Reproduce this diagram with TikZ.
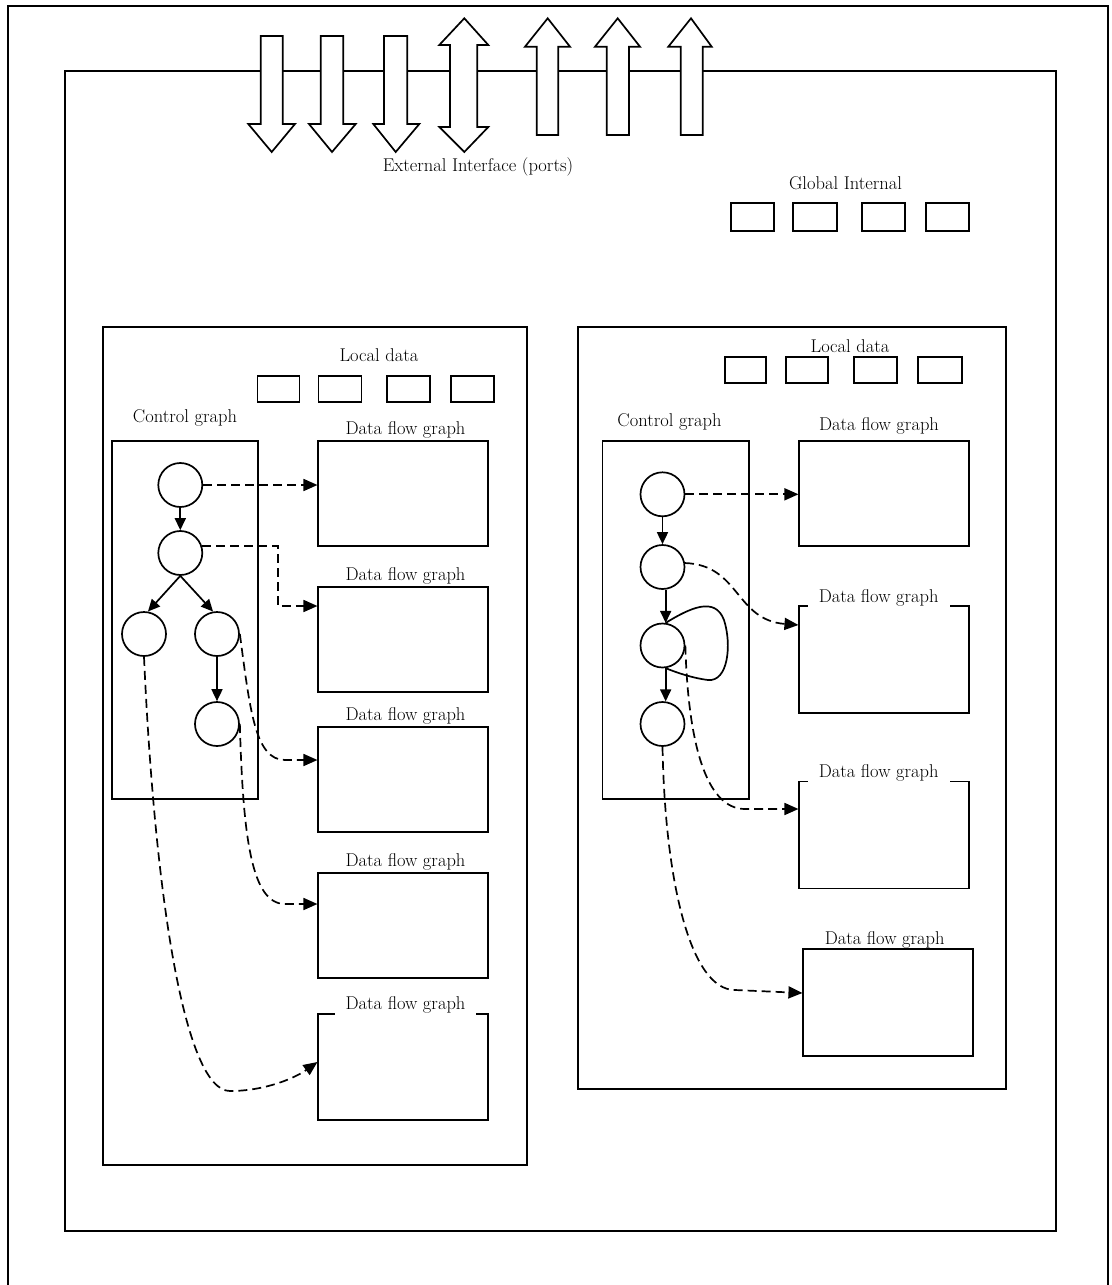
\documentclass[tikz,border=0pt]{standalone}
\usepackage{fontspec}
\usetikzlibrary{arrows.meta}
\begin{document}
\begin{tikzpicture}[x=1pt,y=-1pt, line width=1.7pt,
  lbl/.style={font=\fontsize{18.5}{22}\selectfont, anchor=base, inner sep=0pt},
  lblcut/.style={lbl, fill=white, inner xsep=11pt, inner ysep=3pt},
  box/.style={draw, rectangle, inner sep=0pt},
  cnode/.style={draw, circle, minimum size=44pt, inner sep=0pt},
  flow/.style={dash pattern=on 9pt off 5pt, -{Triangle[length=14pt,width=12pt]}},
  ctrl/.style={-{Triangle[length=12pt,width=11pt]}},
  port/.style={draw, fill=white, line join=miter}
]
\useasboundingbox (0,0) rectangle (1111,1285);
% outer page frame
\draw (8,1290) -- (8,6) -- (1108,6) -- (1108,1290);
% inner frame
\draw (65,71) rectangle (1056,1231);
% ports
\draw[port] (260.7,36)--(282.7,36)--(282.7,124)--(295,124)--(271.7,152)--(248.3,124)--(260.7,124)--cycle;
\draw[port] (320.7,36)--(343.3,36)--(343.3,124)--(355.7,124)--(332,152)--(309,124)--(320.7,124)--cycle;
\draw[port] (384,36)--(407.3,36)--(407.3,124)--(419.3,124)--(395.7,152)--(373.3,124)--(384,124)--cycle;
\draw[port] (464.3,18.3)--(488.3,45)--(477.3,45)--(477.3,127)--(488.3,127)--(464.3,152)--(439.3,127)--(450,127)--(450,45)--(439.3,45)--cycle;
\draw[port] (547.7,18.3)--(570,46.7)--(558.3,46.7)--(558.3,135)--(536.7,135)--(536.7,46.7)--(525,46.7)--cycle;
\draw[port] (617.7,18.3)--(640,46.7)--(629,46.7)--(629,135)--(606.7,135)--(606.7,46.7)--(595,46.7)--cycle;
\draw[port] (691,18.3)--(711.7,46.7)--(702.7,46.7)--(702.7,135)--(680.7,135)--(680.7,46.7)--(668.3,46.7)--cycle;
\node[lbl] (ext) at (478,171) {External Interface (ports)};
% global internal
\node[lbl] (glob) at (845.5,189.5) {Global Internal};
\node[box, minimum width=43pt, minimum height=28pt] (g1) at (752.5,216.8) {};
\node[box, minimum width=44pt, minimum height=28pt] (g2) at (814.7,216.8) {};
\node[box, minimum width=43pt, minimum height=28pt] (g3) at (883.3,216.8) {};
\node[box, minimum width=43pt, minimum height=28pt] (g4) at (947.7,216.8) {};

% ---------- left block ----------
\draw (103,327) rectangle (527,1165);
\node[lbl] (lld) at (379,361) {Local data};
\node[box, minimum width=42pt, minimum height=26pt] (ll1) at (278.5,389) {};
\node[box, minimum width=43pt, minimum height=26pt] (ll2) at (340,389) {};
\node[box, minimum width=43pt, minimum height=26pt] (ll3) at (408.3,389) {};
\node[box, minimum width=43pt, minimum height=26pt] (ll4) at (472.5,389) {};
\node[lbl] (lcg) at (185,422.7) {Control graph};
\draw (112.3,441) rectangle (258.3,799);
\node[box, minimum width=170pt, minimum height=105pt] (L1) at (403.3,493.3) {};
\node[box, minimum width=170pt, minimum height=105pt] (L2) at (403.3,639.2) {};
\node[box, minimum width=170pt, minimum height=105pt] (L3) at (403.3,779.3) {};
\node[box, minimum width=170pt, minimum height=105pt] (L4) at (403.3,925.5) {};
\node[box, minimum width=170pt, minimum height=106pt] (L5) at (403.3,1066.7) {};
\node[lbl] (lt1) at (405.5,434.3) {Data flow graph};
\node[lbl] (lt2) at (405.5,580.3) {Data flow graph};
\node[lbl] (lt3) at (405.5,720) {Data flow graph};
\node[lbl] (lt4) at (405.5,866) {Data flow graph};
\node[lblcut] (lt5) at (405.5,1009) {Data flow graph};

\node[cnode] (C1) at (180.3,485) {};
\node[cnode] (C2) at (180.3,553) {};
\node[cnode] (C3) at (144,634) {};
\node[cnode] (C4) at (217,634) {};
\node[cnode] (C5) at (217,724) {};
\draw[ctrl] (C1) -- (C2);
\draw[ctrl] (C2.south) -- (C3.80);
\draw[ctrl] (C2.south) -- (C4.100);
\draw[ctrl] (C4) -- (C5);

\draw[flow] (C1.east) -- (C1.east -| L1.west);
\draw[flow] (C2.18) -| (277.7,606) -- ([yshift=33.2pt]L2.west);
\draw[flow] (C4.east) .. controls (250,710) and (255,760) .. (285,760) -- ([yshift=19.3pt]L3.west);
\draw[flow] (C5.east) .. controls (243,840) and (252,904) .. (285,904) -- ([yshift=21.5pt]L4.west);
\draw[flow] (C3.south) .. controls (155,900) and (185,1091) .. (230,1091) .. controls (265,1091) and (295,1078) .. ([yshift=4.7pt]L5.west);

% ---------- right block ----------
\draw (578,327) rectangle (1006,1089);
\node[lbl] (rld) at (850,352.5) {Local data};
\node[box, minimum width=41pt, minimum height=25.4pt] (rl1) at (745.5,370) {};
\node[box, minimum width=42.6pt, minimum height=25.4pt] (rl2) at (807,370) {};
\node[box, minimum width=42.7pt, minimum height=25.4pt] (rl3) at (875.3,370) {};
\node[box, minimum width=43.4pt, minimum height=25.4pt] (rl4) at (940,370) {};
\node[lbl] (rcg) at (669.5,426.7) {Control graph};
\draw (602.5,440.7) rectangle (749,799);
\node[box, minimum width=170pt, minimum height=105pt] (RB1) at (884.3,493.5) {};
\node[box, minimum width=170pt, minimum height=107pt] (RB2) at (884.3,659.7) {};
\node[box, minimum width=170pt, minimum height=107pt] (RB3) at (884.3,835) {};
\node[box, minimum width=169.4pt, minimum height=107pt] (RB4) at (888,1002.5) {};
\node[lbl] (rt1) at (879,430) {Data flow graph};
\node[lblcut] (rt2) at (878.7,602.5) {Data flow graph};
\node[lblcut] (rt3) at (878.7,777.5) {Data flow graph};
\node[lbl] (rt4) at (884.7,944) {Data flow graph};

\node[cnode] (R1) at (662.5,494.3) {};
\node[cnode] (R2) at (662.5,567) {};
\node[cnode] (R3) at (662.5,645.5) {};
\node[cnode] (R4) at (662.5,724) {};
\draw[ctrl] (R1) -- (R2);
\draw[ctrl] (R2.-82) -- (R3.82);
\draw[ctrl] (R3.-82) -- (R4.82);
\draw (R3.82) .. controls (690,608) and (715,596) .. (724,620) .. controls (732,645) and (728,682) .. (708,680) .. controls (692,678) and (675,672) .. (R3.-82);

\draw[flow] (R1.east) -- (R1.east -| RB1.west);
\draw[flow] (R2.10) .. controls (740,565) and (735,620) .. ([yshift=34.7pt]RB2.west);
\draw[flow] (R3.east) .. controls (688,740) and (705,809) .. (745,809) -- ([yshift=26pt]RB3.west);
\draw[flow] (R4.south) .. controls (665,880) and (690,990) .. (735,990) -- ([yshift=9.5pt]RB4.west);
\end{tikzpicture}
\end{document}
